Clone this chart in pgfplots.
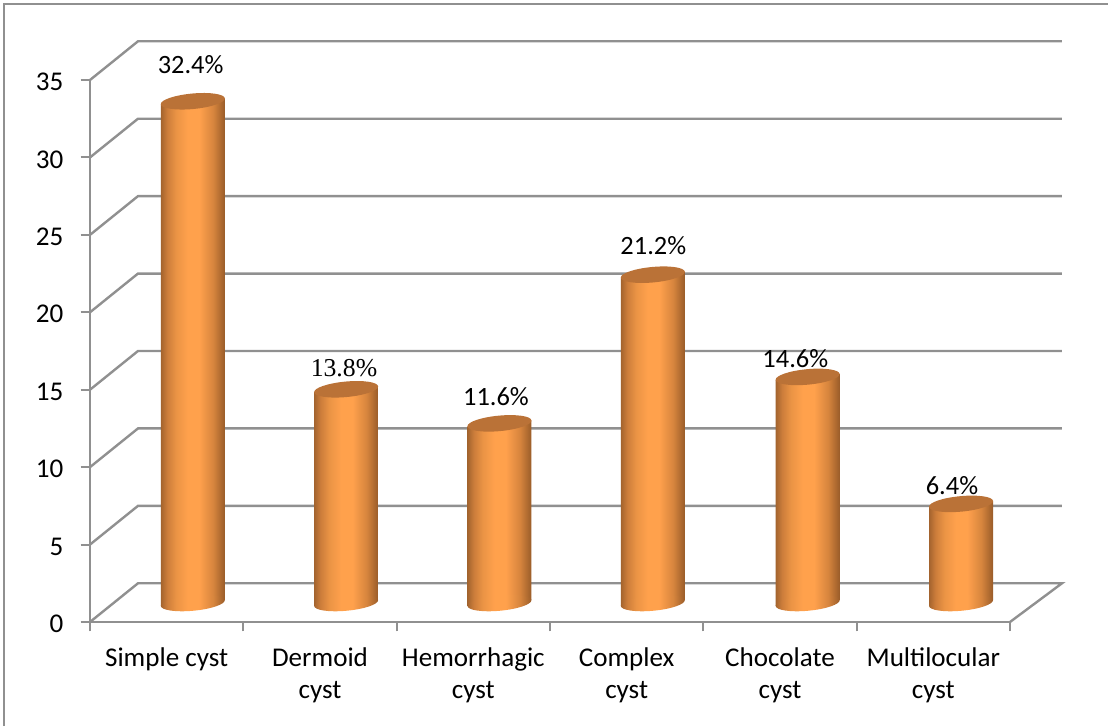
\documentclass[border=0pt]{standalone}
\usepackage{pgfplots}
\pgfplotsset{compat=1.18}
\usepackage{fontspec}
\setmainfont{Carlito}
\newfontfamily\serifnum{Liberation Serif}

% 1 px of the reference = 0.75pt
\definecolor{gridgray}{HTML}{909090}
\definecolor{cyltop}{HTML}{BA7237}

\pgfdeclarehorizontalshading{cyl}{100bp}{
  rgb(0bp)=(0.64,0.39,0.18);
  rgb(25bp)=(0.64,0.39,0.18);
  rgb(30bp)=(0.80,0.49,0.23);
  rgb(37bp)=(0.92,0.58,0.27);
  rgb(46bp)=(1.00,0.63,0.30);
  rgb(55bp)=(1.00,0.63,0.30);
  rgb(66bp)=(0.84,0.52,0.24);
  rgb(75bp)=(0.60,0.36,0.16);
  rgb(100bp)=(0.60,0.36,0.16)}

\pgfdeclareplotmark{cylbase}{%
  \pgfpathellipse{\pgfpointorigin}{\pgfpoint{24pt}{2.2pt}}{\pgfpoint{-0.4pt}{5.8pt}}%
  \pgfshadepath{cyl}{0}\pgfusepath{discard}}
\pgfdeclareplotmark{cyllid}{%
  \pgfpathellipse{\pgfpointorigin}{\pgfpoint{24pt}{2.2pt}}{\pgfpoint{-0.4pt}{5.8pt}}%
  \pgfusepathqfill}

% body has slanted ends so that its corners sit on the tilted ellipses
\newcommand{\cyl}[2]{%
  \pgfmathsetmacro\xl{#1-0.2087}%
  \pgfmathsetmacro\xr{#1+0.2087}%
  \pgfmathsetmacro\yl{#2-0.19}%
  \pgfmathsetmacro\yr{#2+0.19}%
  \addplot[forget plot,only marks,mark=cylbase,xshift=19.6pt,yshift=14.25pt] coordinates {(#1,0)};
  \addplot[forget plot,shading=cyl,draw=none,xshift=19.6pt,yshift=14.25pt]
    coordinates {(\xl,-0.19) (\xr,0.19) (\xr,\yr) (\xl,\yl)} -- cycle;
  \addplot[forget plot,only marks,mark=cyllid,mark options={draw=none,fill=cyltop},
    xshift=19.6pt,yshift=14.25pt] coordinates {(#1,#2)};
}

\begin{document}
\begin{tikzpicture}
\begin{axis}[
  name=main,
  at={(67.5pt,78pt)},
  anchor=origin,
  scale only axis,
  width=690pt,
  height=406.5pt,
  xmin=0, xmax=6,
  ymin=0, ymax=35,
  clip=false,
  axis lines=left,
  axis line style={gridgray,line width=1.8pt,-},
  tick style={gridgray,line width=1.5pt},
  major tick length=7pt,
  tick align=outside,
  ytick={0,5,...,35},
  xtick={0,...,6},
  x tick label as interval,
  xticklabels={Simple cyst,Dermoid\\cyst,Hemorrhagic\\cyst,Complex\\cyst,Chocolate\\cyst,Multilocular\\cyst},
  xticklabel style={align=center,font=\fontsize{20.3}{24}\selectfont,yshift=-9pt},
  yticklabel style={font=\fontsize{20.3}{24}\selectfont,xshift=-9.5pt,yshift=-1.5pt},
  /pgf/number format/assume math mode=true,
]
% floor and back wall
\addplot[forget plot,gridgray,line width=1.8pt] coordinates {(6,0) (6.339,2.5) (0.313,2.5) (0,0)};
\addplot[forget plot,gridgray,line width=1.8pt] coordinates {(0,5) (0.313,7.5) (6.339,7.5)};
\addplot[forget plot,gridgray,line width=1.8pt] coordinates {(0,10) (0.313,12.5) (6.339,12.5)};
\addplot[forget plot,gridgray,line width=1.8pt] coordinates {(0,15) (0.313,17.5) (6.339,17.5)};
\addplot[forget plot,gridgray,line width=1.8pt] coordinates {(0,20) (0.313,22.5) (6.339,22.5)};
\addplot[forget plot,gridgray,line width=1.8pt] coordinates {(0,25) (0.313,27.5) (6.339,27.5)};
\addplot[forget plot,gridgray,line width=1.8pt] coordinates {(0,30) (0.313,32.5) (6.339,32.5)};
\addplot[forget plot,gridgray,line width=1.8pt] coordinates {(0,35) (0.313,37.5) (6.339,37.5)};
% cylinders
\cyl{0.5}{32.4}
\cyl{1.5}{13.8}
\cyl{2.5}{11.6}
\cyl{3.5}{21.2}
\cyl{4.51}{14.6}
\cyl{5.51}{6.4}
% value labels
\pgfplotsset{vlabel/.style={forget plot,only marks,mark=none,
  point meta=y,
  visualization depends on={\thisrow{dx}\as\dx},
  visualization depends on={\thisrow{dy}\as\dy},
  nodes near coords={\pgfmathprintnumber[fixed,fixed zerofill,precision=1]{\pgfplotspointmeta}\%},
  every node near coord/.append style={anchor=center,xshift=\dx pt,yshift=\dy pt}}}
\addplot[vlabel,nodes near coords style={font=\fontsize{19.8}{24}\selectfont}] table {
x y dx dy
0.5 32.4 18 42
2.5 11.6 17 34
3.5 21.2 20 36
4.5 14.6 11.5 28
5.5 6.4 14 28
};
\addplot[vlabel,nodes near coords style={font=\serifnum\fontsize{19.3}{24}\selectfont}] table {
x y dx dy
1.5 13.8 18 30
};
\end{axis}
% page and outer frame
\path[use as bounding box] (0,0) rectangle (831pt,544.5pt);
\draw[gridgray,line width=1.3pt] (3pt,0pt) -- (3pt,541.5pt) -- (831pt,541.5pt);
\end{tikzpicture}
\end{document}
